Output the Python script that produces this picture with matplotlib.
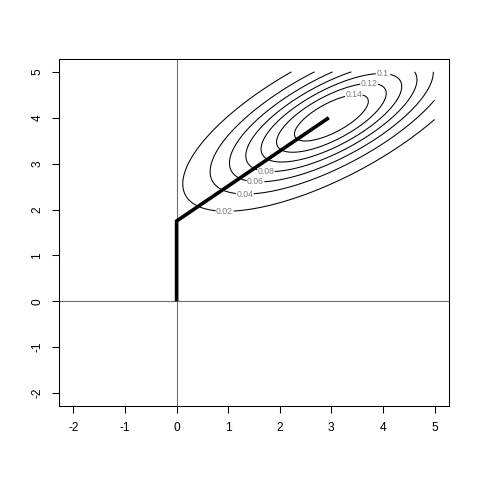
import matplotlib
matplotlib.use("Agg")
import matplotlib.pyplot as plt
import numpy as np

plt.rcParams['font.family'] = ['Liberation Sans', 'DejaVu Sans']
plt.rcParams['axes.unicode_minus'] = False

# bivariate normal behind the contours
mu = np.array([3.0, 4.0])
sigma = np.array([[2.0, 1.0],
                  [1.0, 1.0]])
levels = [0.02, 0.04, 0.06, 0.08, 0.10, 0.12, 0.14]
level_labels = {0.02: '0.02', 0.04: '0.04', 0.06: '0.06', 0.08: '0.08',
                0.10: '0.1', 0.12: '0.12', 0.14: '0.14'}
label_pos = [(0.93, 1.96), (1.32, 2.33), (1.53, 2.62), (1.73, 2.86),
             (4.00, 4.92), (3.73, 4.69), (3.44, 4.43)]

# thick path
path_x = [0, 0, 2.95]
path_y = [0, 1.75, 4.0]

ticks = [-2, -1, 0, 1, 2, 3, 4, 5]

# density on a grid over [0,5] x [0,5]
gx = np.linspace(0, 5, 251)
gy = np.linspace(0, 5, 251)
X, Y = np.meshgrid(gx, gy)
inv = np.linalg.inv(sigma)
dx = X - mu[0]
dy = Y - mu[1]
d2 = inv[0, 0]*dx**2 + 2*inv[0, 1]*dx*dy + inv[1, 1]*dy**2
Z = np.exp(-0.5*d2) / (2*np.pi*np.sqrt(np.linalg.det(sigma)))

fig = plt.figure(figsize=(4.8, 4.8), dpi=100)
ax = fig.add_axes([59/480, 1-406/480, 390/480, 347/480])

ax.axhline(0, color='#6e6e6e', lw=0.8)
ax.axvline(0, color='#6e6e6e', lw=0.8)

cs = ax.contour(X, Y, Z, levels=levels, colors='black', linewidths=0.75)
txts = ax.clabel(cs, fmt=lambda v: level_labels[round(v, 2)],
                 fontsize=6.2, colors='#7a7a7a', inline=True, inline_spacing=5,
                 manual=label_pos)
for t in txts:
    t.set_rotation(0)

ax.plot(path_x, path_y, color='black', lw=2.6, solid_capstyle='butt', solid_joinstyle='miter')

ax.set_xlim(-2.28, 5.28)
ax.set_ylim(-2.28, 5.28)
ax.set_xticks(ticks)
ax.set_yticks(ticks)
ax.set_xticklabels([str(t) for t in ticks])
ax.set_yticklabels([str(t) for t in ticks], rotation=90, va='center')
ax.tick_params(direction='out', length=5.2, width=0.75, labelsize=8.6, pad=6)
for s in ax.spines.values():
    s.set_linewidth(0.75)

fig.savefig('out.png', dpi=100)
